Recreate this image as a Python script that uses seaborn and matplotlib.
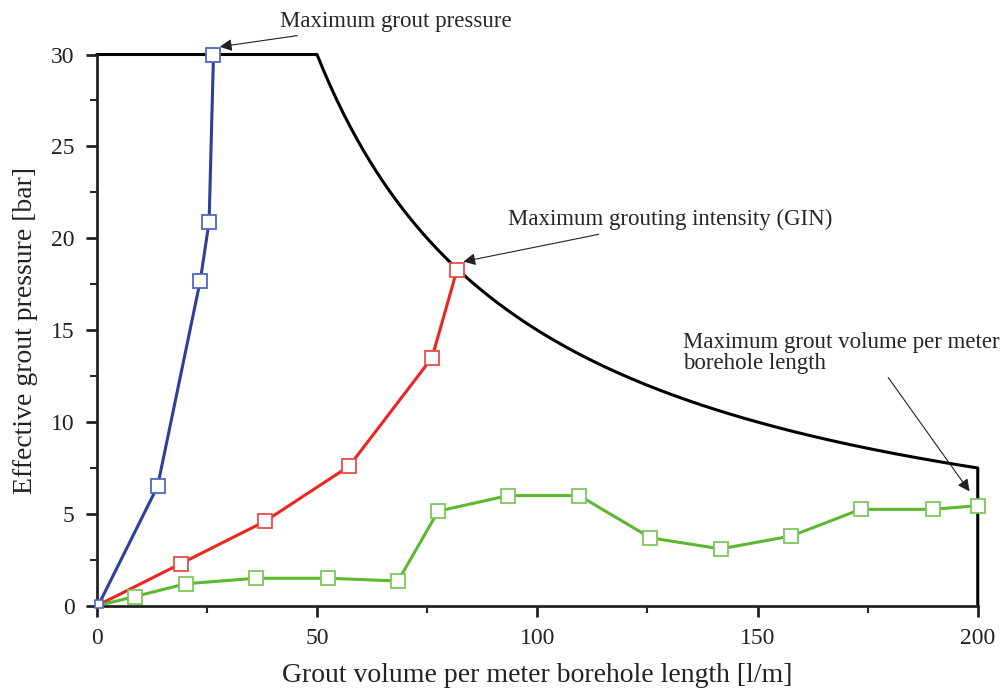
import numpy as np
import pandas as pd
import matplotlib
matplotlib.use("Agg")
import matplotlib.pyplot as plt
from matplotlib.ticker import MultipleLocator
import seaborn as sns

# ---- data ----
blue_x = [0.5, 13.8, 23.5, 25.5, 26.5]
blue_y = [0.1, 6.5, 17.7, 20.9, 30.0]

red_x = [0.0, 19.1, 38.2, 57.3, 76.1, 81.8]
red_y = [0.0, 2.3, 4.6, 7.6, 13.5, 18.3]

green_x = [0.0, 8.6, 20.2, 36.1, 52.5, 68.4, 77.5, 93.4, 109.5, 125.7, 141.6, 157.7, 173.4, 189.8, 200.0]
green_y = [0.0, 0.5, 1.2, 1.5, 1.5, 1.35, 5.15, 6.0, 6.0, 3.7, 3.1, 3.8, 5.25, 5.25, 5.45]

p_max = 30.0      # maximum grout pressure [bar]
gin = 1500.0      # maximum grouting intensity [bar*l/m]
v_max = 200.0     # maximum grout volume [l/m]

x_ticks = [0, 50, 100, 150, 200]
y_ticks = [0, 5, 10, 15, 20, 25, 30]

# envelope (GIN limiting curve)
curve_v = np.linspace(gin / p_max, v_max, 200)
env_v = np.concatenate([[0.0], curve_v, [v_max]])
env_p = np.concatenate([[p_max], gin / curve_v, [0.0]])
env = pd.DataFrame({"v": env_v, "p": env_p})

sns.set_theme(style="ticks")
plt.rcParams["font.family"] = ["Liberation Serif", "DejaVu Serif"]

fig = plt.figure(figsize=(10.08, 6.9), dpi=100)
ax = fig.add_axes([0.096, 0.122, 0.874, 0.799])

sns.lineplot(data=env, x="v", y="p", sort=False, estimator=None, ax=ax,
             color="black", lw=2.2, clip_on=False)

def series(xs, ys, line_c, mark_c, ax, first_ms=None, ms=10):
    df = pd.DataFrame({"x": xs, "y": ys})
    sns.lineplot(data=df, x="x", y="y", sort=False, estimator=None, ax=ax,
                 color=line_c, lw=2.2, clip_on=False, zorder=3)
    dm = df.iloc[1:]
    ax.plot(dm["x"], dm["y"], ls="none", marker="s", ms=ms, mfc="white", mec=mark_c,
            mew=1.3, clip_on=False, zorder=4)
    if first_ms:
        ax.plot(df["x"].iloc[:1], df["y"].iloc[:1], ls="none", marker="s", ms=first_ms,
                mfc="white", mec=mark_c, mew=1.2, clip_on=False, zorder=4)

series(blue_x, blue_y, "#2c3f9c", "#5266c4", ax, first_ms=6)
series(red_x, red_y, "#ec2520", "#f04a48", ax)
series(green_x, green_y, "#5cb82e", "#7cc85a", ax)

ax.set_xlim(0, 200)
ax.set_ylim(0, 30)
ax.set_xticks(x_ticks)
ax.set_yticks(y_ticks)
ax.xaxis.set_minor_locator(MultipleLocator(25))
ax.yaxis.set_minor_locator(MultipleLocator(2.5))
ax.tick_params(which="major", direction="out", length=8, width=2, labelsize=17, colors="#222222", pad=8)
ax.tick_params(which="minor", direction="out", length=5, width=1.5)
for s in ["top", "right"]:
    ax.spines[s].set_visible(False)
for s in ["left", "bottom"]:
    ax.spines[s].set_linewidth(2)
    ax.spines[s].set_color("#222222")

ax.set_xlabel("Grout volume per meter borehole length [l/m]", fontsize=20, labelpad=10, color="#222222")
ax.set_ylabel("Effective grout pressure [bar]", fontsize=20, labelpad=9, color="#222222")

arrow = dict(arrowstyle="-|>", color="#222222", lw=0.8, mutation_scale=18)
ax.annotate("Maximum grout pressure", xy=(27.3, 30.4), xytext=(41.6, 31.8),
            fontsize=16.5, va="center", ha="left", annotation_clip=False, arrowprops=arrow)
ax.annotate("Maximum grouting intensity (GIN)", xy=(82.6, 18.7), xytext=(93.4, 21.0),
            fontsize=16.5, va="center", ha="left", annotation_clip=False, arrowprops=arrow)
ax.text(133.0, 13.75, "Maximum grout volume per meter\nborehole length", fontsize=16.5,
        va="center", ha="left", linespacing=1.0)
ax.annotate("", xy=(198.5, 6.1), xytext=(179.3, 12.55), annotation_clip=False, arrowprops=arrow)

fig.savefig("out.png", dpi=100)
